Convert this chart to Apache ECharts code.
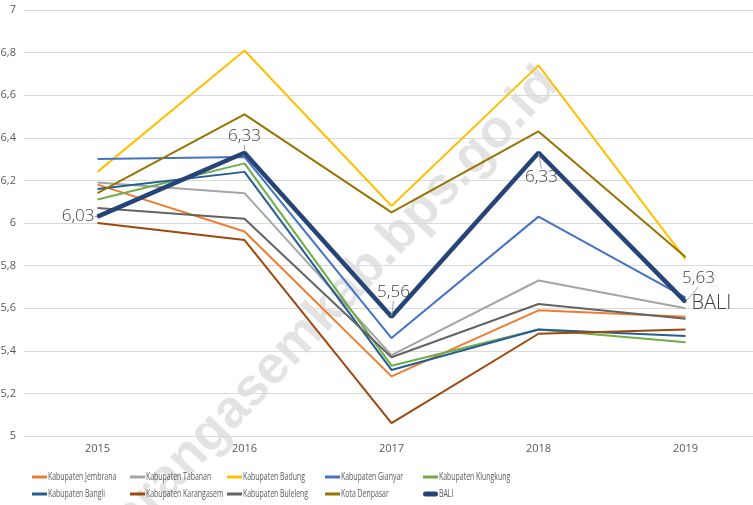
<!DOCTYPE html>
<html>
<head>
<meta charset="utf-8">
<script src="https://cdn.jsdelivr.net/npm/echarts@6/dist/echarts.min.js"></script>
<style>
  html, body { margin: 0; padding: 0; background: #ffffff; }
  #chart { width: 753px; height: 505px; }
</style>
</head>
<body>
<div id="chart"></div>
<script>
// Tahun pengamatan
const years = ['2015', '2016', '2017', '2018', '2019'];

// Nilai per kabupaten/kota
const jembrana   = [6.18, 5.96, 5.28, 5.59, 5.56];
const tabanan    = [6.19, 6.14, 5.38, 5.73, 5.60];
const badung     = [6.24, 6.81, 6.08, 6.74, 5.83];
const gianyar    = [6.30, 6.31, 5.46, 6.03, 5.65];
const klungkung  = [6.11, 6.28, 5.33, 5.50, 5.44];
const bangli     = [6.16, 6.24, 5.31, 5.50, 5.47];
const karangasem = [6.00, 5.92, 5.06, 5.48, 5.50];
const buleleng   = [6.07, 6.02, 5.37, 5.62, 5.55];
const denpasar   = [6.14, 6.51, 6.05, 6.43, 5.84];
const bali       = [6.03, 6.33, 5.56, 6.33, 5.63];

// Sumbu Y
const yMin = 5, yMax = 7, yStep = 0.2;

const comma = v => String(Math.round(v * 100) / 100).replace('.', ',');

const seriesDefs = [
  { name: 'Kabupaten Jembrana',   data: jembrana,   color: '#ED7D31' },
  { name: 'Kabupaten Tabanan',    data: tabanan,    color: '#A5A5A5' },
  { name: 'Kabupaten Badung',     data: badung,     color: '#FFC000' },
  { name: 'Kabupaten Gianyar',    data: gianyar,    color: '#4472C4' },
  { name: 'Kabupaten Klungkung',  data: klungkung,  color: '#70AD47' },
  { name: 'Kabupaten Bangli',     data: bangli,     color: '#255E91' },
  { name: 'Kabupaten Karangasem', data: karangasem, color: '#9E480E' },
  { name: 'Kabupaten Buleleng',   data: buleleng,   color: '#636363' },
  { name: 'Kota Denpasar',        data: denpasar,   color: '#997300' },
  { name: 'BALI',                 data: bali,       color: '#264478' }
];

const labelFont = { fontFamily: '"Open Sans", "Liberation Sans", sans-serif', fontWeight: 300, color: '#404040' };

// Penempatan label nilai pada garis BALI; dx/dy menggeser label sehingga muncul garis penunjuk
const baliLabelPlacement = [
  { position: 'left',   distance: 2, offset: [0, -4], dx: 0, dy: 0 },
  { position: 'top',    distance: 7, offset: [3, 0],  dx: 0, dy: 0 },
  { position: 'top',    distance: 2, offset: [0, 0],  dx: 2, dy: -13 },
  { position: 'bottom', distance: 2, offset: [0, 0],  dx: 3, dy: 13 },
  { position: 'top',    distance: 2, offset: [0, 0],  dx: 13, dy: -12 }
];

const series = seriesDefs.map(def => {
  const isBali = def.name === 'BALI';
  const s = {
    name: def.name,
    type: 'line',
    symbol: isBali ? 'circle' : 'none',
    symbolSize: 2,
    showSymbol: isBali,
    z: isBali ? 5 : 2,
    lineStyle: { color: def.color, width: isBali ? 4.5 : 2 },
    itemStyle: { color: def.color },
    emphasis: { disabled: true },
    data: def.data.map((v, i) => {
      if (!isBali) return v;
      const p = baliLabelPlacement[i];
      return {
        value: v,
        label: Object.assign({
          show: true, fontSize: 17, formatter: q => comma(q.value),
          position: p.position, distance: p.distance, offset: p.offset
        }, labelFont),
        labelLine: { show: true, lineStyle: { color: '#a6a6a6', width: 1 } }
      };
    })
  };
  if (isBali) {
    s.labelLayout = params => {
      const p = baliLabelPlacement[params.dataIndex];
      return p ? { dx: p.dx, dy: p.dy } : {};
    };
    s.endLabel = Object.assign({ show: true, formatter: 'BALI', fontSize: 20, distance: 6, offset: [0, 1] }, labelFont);
  }
  return s;
});

// Legenda: 2 baris x 5 kolom
const legendCols = [32, 130, 227, 325, 423];
const legendRows = [477, 494];
const legendItems = seriesDefs.map((def, i) => {
  const isBali = def.name === 'BALI';
  return {
    type: 'group',
    x: legendCols[i % 5],
    y: legendRows[Math.floor(i / 5)],
    silent: true,
    children: [
      {
        type: 'rect',
        shape: isBali ? { x: 0, y: -2.5, width: 15, height: 5, r: 2.5 } : { x: 0, y: -1.5, width: 15, height: 3 },
        style: { fill: def.color }
      },
      {
        type: 'text',
        x: 16, y: 0,
        scaleX: 0.66,
        style: {
          text: def.name,
          fontSize: 10.5,
          fontFamily: '"Open Sans", sans-serif',
          fill: '#595959',
          align: 'left',
          verticalAlign: 'middle'
        }
      }
    ]
  };
});

const chart = echarts.init(document.getElementById('chart'), null, { renderer: 'canvas' });
chart.setOption({
  backgroundColor: '#ffffff',
  animation: false,
  grid: { left: 24, width: 735, top: 10, bottom: 69, outerBoundsMode: 'none', containLabel: false },
  graphic: [{
    type: 'text',
    x: 326, y: 312,
    rotation: 46.5 * Math.PI / 180,
    z: -10,
    silent: true,
    style: {
      text: 'karangasemkab.bps.go.id',
      fontSize: 53,
      fontWeight: 'bold',
      fontFamily: '"Liberation Sans", Arial, sans-serif',
      fill: 'rgba(0,0,0,0.11)',
      align: 'center',
      verticalAlign: 'middle'
    }
  }].concat(legendItems),
  xAxis: {
    type: 'category',
    data: years,
    boundaryGap: true,
    axisTick: { show: false },
    axisLine: { lineStyle: { color: '#d9d9d9', width: 1 } },
    axisLabel: { color: '#595959', fontSize: 11, margin: 7, fontFamily: '"Open Sans", sans-serif' }
  },
  yAxis: {
    type: 'value',
    min: yMin, max: yMax, interval: yStep,
    axisLine: { show: false },
    axisTick: { show: false },
    splitLine: { lineStyle: { color: '#d9d9d9', width: 1 } },
    axisLabel: { color: '#595959', fontSize: 11, margin: 8, formatter: v => comma(v), fontFamily: '"Open Sans", sans-serif' }
  },
  series: series
});
</script>
</body>
</html>
